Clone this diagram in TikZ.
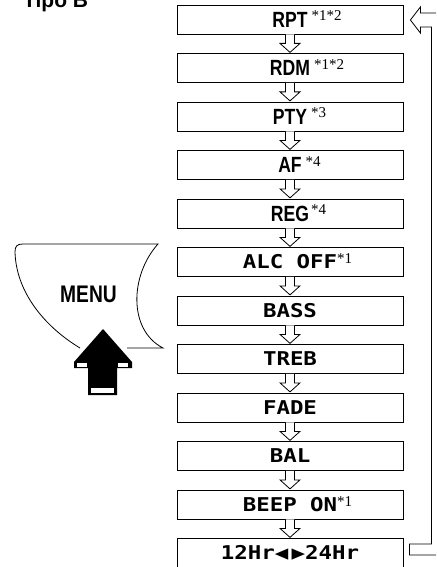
\documentclass[tikz,border=0pt]{standalone}
\usepackage{fontspec}
\newfontfamily\lblfont[FakeStretch=0.8]{Liberation Sans Bold}
\newfontfamily\headfont{Liberation Sans Bold}
\newfontfamily\lcdfont[FakeStretch=1.18]{DejaVu Sans Mono Bold}
\newfontfamily\notefont{Liberation Serif}
\newcommand{\fnote}[3][4pt]{\rlap{\smash{\hspace{#1}\raisebox{#2}{\notefont\fontsize{15}{15}\selectfont #3}}}}
\tikzset{
  menubox/.style={draw, line width=0.8pt, minimum width=226pt, minimum height=29pt, inner sep=0pt},
  sanstext/.style={font=\lblfont\fontsize{22}{22}\selectfont},
  lcdtext/.style={font=\lcdfont\fontsize{19}{19}\selectfont},
  hollow/.style={draw, line width=0.8pt, fill=white},
}
\newcommand{\steparrow}[1]{\draw[hollow] (#1.south) ++(-4.5,0) -- ++(0,9) -- ++(-5.5,0) -- ++(10,9) -- ++(10,-9) -- ++(-5.5,0) -- ++(0,-9);}
\begin{document}
\begin{tikzpicture}[x=1pt, y=-1pt, node distance=48.5pt]
\useasboundingbox (0,0) rectangle (436,567);
\clip (0,0) rectangle (436,567);
\node[anchor=base west, inner sep=0pt, font=\headfont\fontsize{21}{21}\selectfont] (title) at (23,8) {Tipo B};
% menu items
\node[menubox, sanstext] (rpt) at (290,19.5) {RPT\fnote{6.5pt}{*1*2}};
\node[menubox, sanstext] (rdm) [below of=rpt] {RDM\fnote{6.5pt}{*1*2}};
\node[menubox, sanstext] (pty) [below of=rdm] {PTY\fnote{6.5pt}{*3}};
\node[menubox, sanstext] (af) [below of=pty] {AF\fnote{6.5pt}{*4}};
\node[menubox, sanstext] (reg) [below of=af] {REG\fnote[2pt]{6.5pt}{*4}};
\node[menubox, lcdtext] (alc) [below of=reg] {ALC OFF\fnote[0pt]{5pt}{*1}};
\node[menubox, lcdtext] (bass) [below of=alc] {BASS};
\node[menubox, lcdtext] (treb) [below of=bass] {TREB};
\node[menubox, lcdtext] (fade) [below of=treb] {FADE};
\node[menubox, lcdtext] (bal) [below of=fade] {BAL};
\node[menubox, lcdtext] (beep) [below of=bal] {BEEP ON\fnote[0pt]{5pt}{*1}};
\node[menubox, lcdtext] (hour) [below of=beep] {12Hr◀\,▶24Hr};
% step arrows
\steparrow{rpt}
\steparrow{rdm}
\steparrow{pty}
\steparrow{af}
\steparrow{reg}
\steparrow{alc}
\steparrow{bass}
\steparrow{treb}
\steparrow{fade}
\steparrow{bal}
\steparrow{beep}
% back to the first item
\draw[hollow] ([shift={(7,0.5)}]rpt.east) -- ++(10,-13) -- ++(0,6) -- ++(26,0) |- ([shift={(6,2)}]hour.east) -- ++(0,-11) -- ++(22,0) |- ([shift={(17,7.5)}]rpt.east) -- ++(0,6) -- cycle;
% MENU key
\draw[line width=0.8pt] (80,348) .. controls (42,325) and (16,290) .. (15,252) .. controls (15,246) and (17,244) .. (23,244) -- (158,244) .. controls (130,275) and (128,330) .. (163,348) -- (127,348);
\node[font=\lblfont\fontsize{24}{24}\selectfont] (menu) at (88.5,294.5) {MENU};
\fill (103,329) -- (132,362) -- (132,368) -- (117,368) -- (117,395) -- (88,395) -- (88,368) -- (74,368) -- (74,362) -- cycle;
\fill[white] (77,363) rectangle (87,367);
\fill[white] (118,363) rectangle (128,367);
\fill[white] (91,388) rectangle (114,393);
\end{tikzpicture}
\end{document}
